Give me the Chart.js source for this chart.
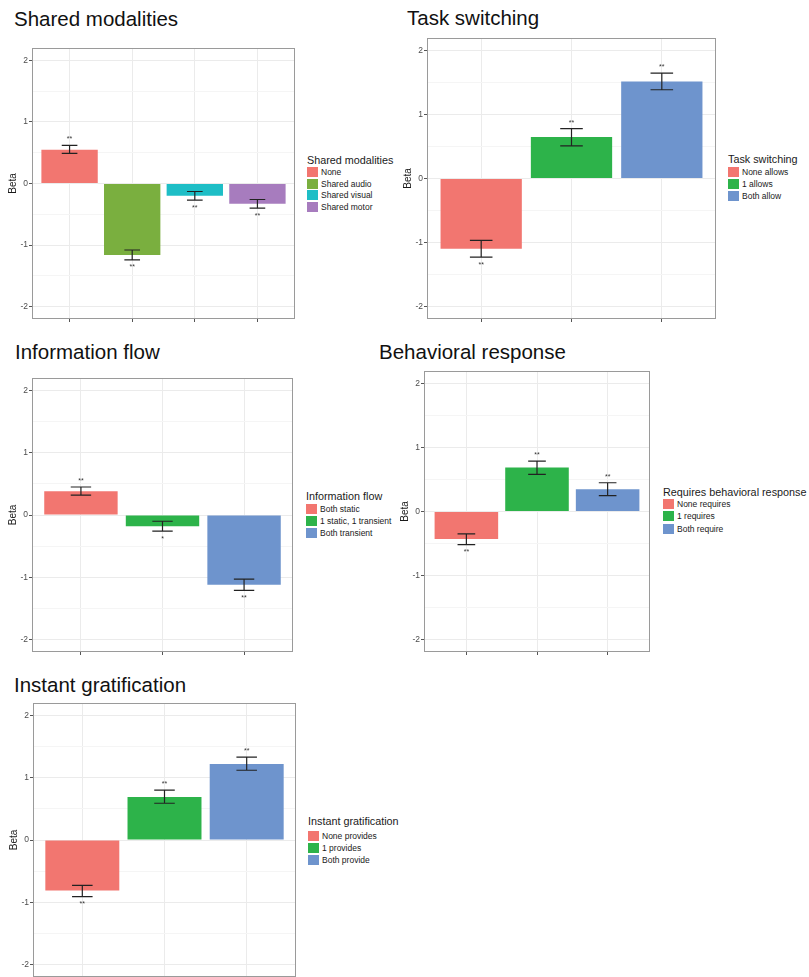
<!DOCTYPE html>
<html>
<head>
<meta charset="utf-8">
<script src="https://cdn.jsdelivr.net/npm/chart.js@4.4.1/dist/chart.umd.min.js"></script>
<style>
  html, body { margin: 0; padding: 0; background: #fff; }
  body { position: relative; width: 809px; height: 977px; overflow: hidden;
         font-family: 'Liberation Sans', Arial, sans-serif; }
  .ptitle { position: absolute; font-size: 20.5px; line-height: 1; color: #111; white-space: nowrap; }
  .lg-title { position: absolute; font-size: 10.8px; line-height: 12px; color: #1a1a1a; white-space: nowrap; }
  .lg-key { position: absolute; width: 11px; height: 10px; }
  .lg-lab { position: absolute; font-size: 8.5px; line-height: 10px; color: #1a1a1a; white-space: nowrap; }
  .wrap { position: absolute; }
</style>
</head>
<body>
<script>
/* ===== Beta estimates by game feature ===== */

// Shared modalities
const modCats = ['None', 'Shared audio', 'Shared visual', 'Shared motor'];
const modBeta = [0.55, -1.16, -0.20, -0.33];
const modLo   = [0.49, -1.24, -0.27, -0.40];
const modHi   = [0.62, -1.08, -0.13, -0.26];
const modSig  = ['**', '**', '**', '**'];

// Task switching
const taskCats = ['None allows', '1 allows', 'Both allow'];
const taskBeta = [-1.10, 0.65, 1.52];
const taskLo   = [-1.23, 0.51, 1.39];
const taskHi   = [-0.97, 0.78, 1.65];
const taskSig  = ['**', '**', '**'];

// Information flow
const infoCats = ['Both static', '1 static, 1 transient', 'Both transient'];
const infoBeta = [0.38, -0.18, -1.12];
const infoLo   = [0.32, -0.26, -1.21];
const infoHi   = [0.45, -0.10, -1.03];
const infoSig  = ['**', '*', '**'];

// Behavioral response
const behCats = ['None requires', '1 requires', 'Both require'];
const behBeta = [-0.43, 0.69, 0.35];
const behLo   = [-0.52, 0.58, 0.25];
const behHi   = [-0.35, 0.79, 0.45];
const behSig  = ['**', '**', '**'];

// Instant gratification
const gratCats = ['None provides', '1 provides', 'Both provide'];
const gratBeta = [-0.81, 0.69, 1.22];
const gratLo   = [-0.91, 0.59, 1.12];
const gratHi   = [-0.73, 0.80, 1.33];
const gratSig  = ['**', '**', '**'];

// y ticks (labelled) and minor grid
const yTicks = [-2, -1.5, -1, -0.5, 0, 0.5, 1, 1.5, 2];
const yMin = -2.2, yMax = 2.2;

const COLORS4 = ['#F27670', '#7AAF3F', '#1EBEC6', '#A77CBE'];
const COLORS3 = ['#F27670', '#2DB34A', '#6E94CD'];

Chart.defaults.font.family = "'Liberation Sans', Arial, sans-serif";

const AXW = 30, PADT = 8, AXH = 8, PADR = 2;

// error bars, stars and panel border
const errorBarPlugin = {
  id: 'errbars',
  afterDatasetsDraw(chart) {
    const p = chart.config.options.plugins.errbars;
    const xs = chart.scales.x, ys = chart.scales.y;
    const ctx = chart.ctx;
    ctx.save();
    ctx.strokeStyle = '#222';
    ctx.lineWidth = 1.2;
    ctx.fillStyle = '#333';
    ctx.font = "7px 'Liberation Sans', Arial";
    ctx.textAlign = 'center';
    ctx.textBaseline = 'alphabetic';
    p.lo.forEach((lo, i) => {
      const x = xs.getPixelForValue(i + 1);
      const half = Math.abs(xs.getPixelForValue(i + 1.125) - x);
      const yl = ys.getPixelForValue(lo);
      const yh = ys.getPixelForValue(p.hi[i]);
      ctx.beginPath();
      ctx.moveTo(x, yl); ctx.lineTo(x, yh);
      ctx.moveTo(x - half, yl); ctx.lineTo(x + half, yl);
      ctx.moveTo(x - half, yh); ctx.lineTo(x + half, yh);
      ctx.stroke();
      if (p.beta[i] >= 0) ctx.fillText(p.sig[i], x, yh - 4);
      else ctx.fillText(p.sig[i], x, yl + 9.5);
    });
    ctx.restore();
  },
  afterDraw(chart) {
    const a = chart.chartArea, ctx = chart.ctx;
    ctx.save();
    ctx.strokeStyle = '#9a9a9a';
    ctx.lineWidth = 1;
    ctx.strokeRect(Math.round(a.left) + 0.5, Math.round(a.top) + 0.5,
                   Math.round(a.right - a.left) - 1, Math.round(a.bottom - a.top) - 1);
    ctx.restore();
  }
};

function addText(cls, text, left, top) {
  const d = document.createElement('div');
  d.className = cls;
  d.textContent = text;
  d.style.left = left + 'px';
  d.style.top = top + 'px';
  document.body.appendChild(d);
  return d;
}

function makePanel(p) {
  // title
  addText('ptitle', p.title, p.tx, p.tBase - 17.5);

  // legend
  addText('lg-title', p.legendTitle, p.lg.x, p.lg.titleY - 6);
  p.cats.forEach((c, i) => {
    const cy = p.lg.firstY + i * p.lg.step;
    const k = document.createElement('div');
    k.className = 'lg-key';
    k.style.left = p.lg.x + 'px';
    k.style.top = (cy - 5) + 'px';
    k.style.background = p.colors[i];
    document.body.appendChild(k);
    addText('lg-lab', c, p.lg.x + 14, cy - 5);
  });

  // canvas
  const w = AXW + (p.box.r - p.box.l) + PADR;
  const h = PADT + (p.box.b - p.box.t) + AXH;
  const wrap = document.createElement('div');
  wrap.className = 'wrap';
  wrap.style.left = (p.box.l - AXW) + 'px';
  wrap.style.top = (p.box.t - PADT) + 'px';
  const canvas = document.createElement('canvas');
  canvas.width = w;
  canvas.height = h;
  wrap.appendChild(canvas);
  document.body.appendChild(wrap);

  const n = p.cats.length;
  new Chart(canvas.getContext('2d'), {
    type: 'bar',
    data: {
      datasets: [{
        data: p.beta.map((v, i) => ({ x: i + 1, y: v })),
        backgroundColor: p.colors,
        borderWidth: 0,
        barPercentage: 1,
        categoryPercentage: 0.9
      }]
    },
    options: {
      responsive: false,
      animation: false,
      layout: { padding: { top: PADT, right: PADR, left: 0, bottom: 0 } },
      plugins: {
        legend: { display: false },
        tooltip: { enabled: false },
        errbars: { lo: p.lo, hi: p.hi, sig: p.sig, beta: p.beta }
      },
      scales: {
        x: {
          type: 'linear',
          min: 0.4,
          max: n + 0.6,
          offset: false,
          afterBuildTicks: s => { s.ticks = p.cats.map((c, i) => ({ value: i + 1 })); },
          afterFit: s => { s.height = AXH; },
          ticks: { display: false },
          border: { display: false },
          grid: { offset: false, color: '#ebebeb', lineWidth: 1, drawTicks: true,
                  tickLength: 3, tickColor: '#555' }
        },
        y: {
          min: yMin,
          max: yMax,
          afterBuildTicks: s => { s.ticks = yTicks.map(v => ({ value: v })); },
          afterFit: s => { s.width = AXW; },
          ticks: {
            autoSkip: false,
            padding: 1,
            color: '#4d4d4d',
            font: { size: 8.5 },
            callback: v => Number.isInteger(v) ? String(v) : ''
          },
          border: { display: false },
          grid: {
            color: c => Number.isInteger(c.tick.value) ? '#ebebeb' : '#f5f5f5',
            tickColor: c => Number.isInteger(c.tick.value) ? '#555' : 'rgba(0,0,0,0)',
            tickLength: 3,
            lineWidth: 1
          },
          title: {
            display: true,
            text: 'Beta',
            color: '#1a1a1a',
            font: { size: 10 },
            padding: { top: 5, bottom: 0 }
          }
        }
      }
    },
    plugins: [errorBarPlugin]
  });
}

makePanel({
  title: 'Shared modalities', tx: 14, tBase: 26,
  legendTitle: 'Shared modalities',
  cats: modCats, beta: modBeta, lo: modLo, hi: modHi, sig: modSig, colors: COLORS4,
  box: { l: 32, r: 295, t: 48, b: 319 },
  lg: { x: 307, titleY: 160, firstY: 172, step: 11.7 }
});

makePanel({
  title: 'Task switching', tx: 407, tBase: 25,
  legendTitle: 'Task switching',
  cats: taskCats, beta: taskBeta, lo: taskLo, hi: taskHi, sig: taskSig, colors: COLORS3,
  box: { l: 427, r: 716, t: 38, b: 319 },
  lg: { x: 728, titleY: 159, firstY: 172, step: 12 }
});

makePanel({
  title: 'Information flow', tx: 15, tBase: 359,
  legendTitle: 'Information flow',
  cats: infoCats, beta: infoBeta, lo: infoLo, hi: infoHi, sig: infoSig, colors: COLORS3,
  box: { l: 32, r: 293, t: 378, b: 652 },
  lg: { x: 306, titleY: 496, firstY: 509, step: 12 }
});

makePanel({
  title: 'Behavioral response', tx: 379, tBase: 359,
  legendTitle: 'Requires behavioral response',
  cats: behCats, beta: behBeta, lo: behLo, hi: behHi, sig: behSig, colors: COLORS3,
  box: { l: 424, r: 650, t: 371, b: 652 },
  lg: { x: 663, titleY: 492, firstY: 504, step: 12.3 }
});

makePanel({
  title: 'Instant gratification', tx: 14, tBase: 692,
  legendTitle: 'Instant gratification',
  cats: gratCats, beta: gratBeta, lo: gratLo, hi: gratHi, sig: gratSig, colors: COLORS3,
  box: { l: 33, r: 296, t: 703, b: 977 },
  lg: { x: 308, titleY: 821, firstY: 836, step: 12 }
});
</script>
</body>
</html>
